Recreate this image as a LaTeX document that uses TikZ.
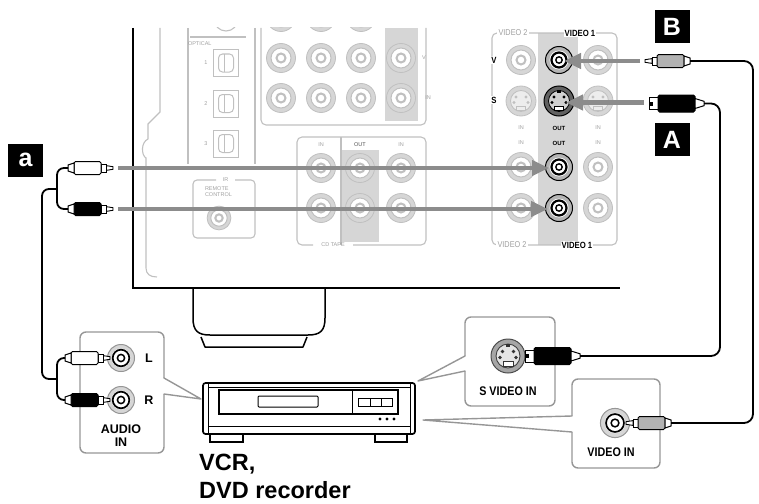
\documentclass[tikz,border=0pt]{standalone}
\usepackage{fontspec}
\setmainfont{Liberation Sans}
\newfontfamily\condfont[FakeStretch=0.86]{Liberation Sans}
\usetikzlibrary{arrows.meta}
\definecolor{pline}{RGB}{192,192,192}
\definecolor{ptext}{RGB}{160,160,160}
\definecolor{pfill}{RGB}{214,214,214}
\definecolor{arrowgray}{RGB}{140,140,140}
\definecolor{callgray}{RGB}{150,150,150}
\definecolor{plugfill}{RGB}{178,178,178}
\definecolor{ringgray}{RGB}{180,180,180}
\newcommand\rcaplugdraw[1]{%
  \draw[black, line width=0.9pt, fill=white] (0,-1.3) -- (7,-2.4) -- (7,2.4) -- (0,1.3) -- cycle;
  \draw[black, line width=0.9pt, fill=white] (7,-4) rectangle (12,4);
  \draw[black, line width=1pt, fill=#1, rounded corners=1.5pt] (12,-6.5) rectangle (39,6.5);
  \draw[black, line width=1pt, fill=white] (39,-5) -- (45,-3) -- (45,3) -- (39,5) -- cycle;
}
\tikzset{
  panel/.style={draw=pline, line width=1.1pt},
  grayarrow/.style={draw=arrowgray, line width=4.5pt, -{Triangle[length=17pt,width=15pt]}},
  cable/.style={draw=black, line width=1.8pt, rounded corners=7pt},
  callout/.style={draw=callgray, line width=1.4pt, rounded corners=6pt},
  tail/.style={draw=callgray, line width=1.4pt, line join=round, line cap=round},
  tinylab/.style={text=ptext, font=\fontsize{5.5}{6}\selectfont, inner sep=0.8pt},
  tinyblack/.style={text=black, font=\bfseries\fontsize{6}{6}\selectfont, inner sep=0.8pt},
  panellab/.style={text=black, font=\condfont\bfseries\fontsize{9}{9}\selectfont, inner sep=1.2pt, fill=white},
  graylab/.style={text=ptext, font=\condfont\fontsize{8.5}{9}\selectfont, inner sep=1.2pt, fill=white},
  calloutlab/.style={text=black, font=\condfont\bfseries\fontsize{12.5}{14}\selectfont, inner sep=0pt},
  audiolab/.style={text=black, font=\bfseries\fontsize{12.5}{15}\selectfont, inner sep=0pt, align=center},
  biglab/.style={font=\bfseries\fontsize{23.5}{28}\selectfont, inner sep=0pt},
  keybox/.style={fill=black, text=white, font=\bfseries\fontsize{25}{25}\selectfont, minimum width=35pt, minimum height=33pt, inner sep=0pt},
  gjack/.pic={
    \fill[pfill] (0,0) circle (14.5);
    \draw[pline, line width=0.8pt] (0,0) circle (14.5);
    \fill[white] (0,0) circle (10);
    \draw[pline, line width=1pt] (0,0) circle (10);
    \draw[pline, line width=2pt] (0,0) circle (4.5);
  },
  bjack/.pic={
    \fill[ringgray] (0,0) circle (13.5);
    \draw[black, line width=1pt] (0,0) circle (13.5);
    \fill[white] (0,0) circle (9.5);
    \draw[black, line width=2.2pt] (0,0) circle (7.5);
    \draw[black, line width=1.4pt] (0,0) circle (3.2);
  },
  ajack/.pic={
    \fill[pfill] (0,0) circle (13.5);
    \draw[callgray, line width=1pt] (0,0) circle (13.5);
    \fill[white] (0,0) circle (9.5);
    \draw[black, line width=1.7pt] (0,0) circle (8.3);
    \draw[black, line width=1.5pt] (0,0) circle (3.6);
  },
  gsjack/.pic={
    \fill[pfill] (0,0) circle (15);
    \draw[pline, line width=0.8pt] (0,0) circle (15);
    \fill[white!93!black] (0,0) circle (10.5);
    \draw[pline, line width=0.8pt] (0,0) circle (10.5);
    \fill[pline] (-5,-4) circle (1.6) (5,-4) circle (1.6) (-7,1.5) circle (1.6) (7,1.5) circle (1.6);
    \draw[pline, line width=0.8pt] (-4.5,5) rectangle (4.5,9);
  },
  bsjack/.pic={
    \fill[black!62] (0,0) circle (15);
    \draw[black, line width=1pt] (0,0) circle (15);
    \fill[black!18] (0,0) circle (10.5);
    \draw[black, line width=0.8pt] (0,0) circle (10.5);
    \fill[black] (-5,-4) circle (1.6) (5,-4) circle (1.6) (-7,1.5) circle (1.6) (7,1.5) circle (1.6);
    \fill[black] (-2,-11) rectangle (2,-8);
    \draw[black, line width=0.8pt, fill=white] (-4.5,5) rectangle (4.5,9);
  },
  csjack/.pic={
    \fill[black!35] (0,0) circle (17);
    \draw[black!70, line width=1pt] (0,0) circle (17);
    \fill[black!10] (0,0) circle (12);
    \draw[black!75, line width=0.9pt] (0,0) circle (12);
    \fill[black!80] (-5.5,-4.5) circle (1.8) (5.5,-4.5) circle (1.8) (-8,1.5) circle (1.8) (8,1.5) circle (1.8);
    \fill[black!80] (-2.2,-12.5) rectangle (2.2,-9);
    \draw[black!80, line width=0.8pt, fill=white] (-5,5.5) rectangle (5,10);
  },
  optbox/.pic={
    \draw[pline, line width=1pt] (-12.5,-13.5) rectangle (12.5,13.5);
    \draw[pline, line width=1pt, rounded corners=4pt] (-7,-9) rectangle (8,9);
    \draw[pline, line width=0.8pt] (-1,-9) -- (-1,9);
  },
  plugw/.pic={\rcaplugdraw{white}},
  plugk/.pic={\rcaplugdraw{black}},
  plugg/.pic={\rcaplugdraw{plugfill}},
  svplug/.pic={
    \draw[black, line width=1pt, fill=white] (0,-6) rectangle (9,6);
    \fill[black] (0,-2) rectangle (3.5,2);
    \draw[black, line width=1pt, fill=black, rounded corners=1.5pt] (9,-8.5) rectangle (46,8.5);
    \draw[black, line width=1pt, fill=white] (46,-5) -- (55,-2.2) -- (55,2.2) -- (46,5) -- cycle;
  },
}
\begin{document}
\begin{tikzpicture}[x=1pt,y=-1pt]
\useasboundingbox (0,0) rectangle (759,503);

% ===== receiver rear panel: light gray details =====
\fill[pfill] (385,28) rectangle (418,121);
\fill[pfill] (341,150) rectangle (379,242);
\fill[pfill] (538,33) rectangle (578,245);

\draw[panel] (160,28) -- (160,112) -- (148,124) -- (148,139) .. controls (141,142) and (141,155) .. (146,158) -- (146,268) .. controls (146,274) and (150,277) .. (157,277);
\draw[panel] (188,28) -- (188,164);
\draw[panel] (255,28) -- (255,164);
\draw[panel] (190,37) -- (246,37);
\begin{scope}
  \clip (150,28) rectangle (430,45);
  \draw[panel] (226,19) circle (12);
  \foreach \xx in {281,321,361} \pic at (\xx,17) {gjack};
\end{scope}
\node[tinylab, anchor=west] (optlab) at (187,44) {OPTICAL};
\foreach \yy/\nn in {63/1,103.5/2,143.5/3}{
  \pic at (225.5,\yy) {optbox};
  \node[tinylab] (optnum\nn) at (206,\yy) {\nn};
}
% remote box
\draw[panel, rounded corners=4pt] (216,180) -- (193,180) -- (193,238) -- (255,238) -- (255,180) -- (235,180);
\node[tinylab] (irlab) at (225.5,180) {IR};
\node[tinylab, align=left, anchor=north west] (remlab) at (204,186) {REMOTE\\CONTROL};
\pic[scale=0.82] at (219,218) {gjack};

% top jack panel
\draw[panel, rounded corners=5pt] (261,28) -- (261,125) -- (426,125) -- (426,28);
\foreach \xx in {281,321,361,401}{
  \pic at (\xx,58) {gjack};
  \pic at (\xx,98) {gjack};
}
\node[tinylab] (toplabV) at (424,58) {V};
\node[tinylab] (toplabIN) at (428,98) {IN};

% CD / TAPE box
\draw[panel, rounded corners=5pt] (313,245) -- (297,245) -- (297,137) -- (426,137) -- (426,245) -- (353,245);
\draw[panel] (341,137) -- (341,245);
\node[tinylab] (cdtape) at (333,245) {CD TAPE};
\node[tinylab] (cdin1) at (321,145) {IN};
\node[tinylab, text=black!70] (cdout) at (360,145) {OUT};
\node[tinylab] (cdin2) at (401,145) {IN};
\foreach \xx in {321,360,401}{
  \pic at (\xx,168) {gjack};
  \pic at (\xx,208) {gjack};
}

% video panel
\draw[panel, rounded corners=5pt] (492,33) rectangle (617,245);
\node[graylab] (v2top) at (513,33) {VIDEO 2};
\node[panellab] (v1top) at (580,33) {VIDEO 1};
\node[graylab] (v2bot) at (512,245) {VIDEO 2};
\node[panellab] (v1bot) at (577,245) {VIDEO 1};
\node[panellab] (labV) at (494,60) {V};
\node[panellab] (labS) at (494,100) {S};
\pic at (521,60) {gjack};
\pic at (559,60) {bjack};
\pic at (598,60) {gjack};
\pic at (521,101) {gsjack};
\pic at (559,101) {bsjack};
\pic at (598,101) {gsjack};
\node[tinylab] (vin1) at (521,128) {IN};
\node[tinyblack] (vout1) at (559,128) {OUT};
\node[tinylab] (vin2) at (598,128) {IN};
\node[tinylab] (vin3) at (521,143) {IN};
\node[tinyblack] (vout2) at (559,143) {OUT};
\node[tinylab] (vin4) at (598,143) {IN};
\foreach \yy in {167,208}{
  \pic at (521,\yy) {gjack};
  \pic at (559,\yy) {bjack};
  \pic at (598,\yy) {gjack};
}

% ===== receiver outline and stand =====
\draw[line width=1.6pt] (133,28) -- (133,288) -- (620,288);
\draw[line width=1.5pt] (193,288) -- (193,318) .. controls (193,331) and (198,335) .. (210,335) -- (308,335) .. controls (320,335) and (325,331) .. (325,318) -- (325,288);
\draw[line width=1.5pt, line join=round] (201,337) -- (205,347) -- (303,347) -- (307,337);

% ===== gray insertion arrows =====
\coordinate (aLfrom) at (118,168);
\coordinate (aLto) at (549,168);
\coordinate (aRfrom) at (118,209);
\coordinate (aRto) at (548,209);
\coordinate (Vfrom) at (640,61);
\coordinate (Vto) at (564,61);
\coordinate (Sfrom) at (644,102.5);
\coordinate (Sto) at (566,102.5);
\draw[grayarrow] (aLfrom) -- (aLto);
\draw[grayarrow] (aRfrom) -- (aRto);
\draw[grayarrow] (Vfrom) -- (Vto);
\draw[grayarrow] (Sfrom) -- (Sto);

% ===== key labels =====
\node[keybox] (keya) at (25.5,160) {a};
\node[keybox] (keyB) at (672,26.5) {B};
\node[keybox] (keyA) at (672,139.5) {A};

% ===== callouts =====
% AUDIO IN
\draw[callout] (164,394) -- (164,453) -- (80,453) -- (80,332) -- (164,332) -- (164,378);
\draw[tail] (164,378) -- (201,399) -- (164,394);
\pic at (121,358) {ajack};
\pic at (121,400) {ajack};
\node[audiolab] (labL) at (149,358) {L};
\node[audiolab] (labR) at (149,400) {R};
\node[audiolab] (audioin) at (121,436) {AUDIO\\[-2pt]IN};
% S VIDEO IN
\draw[callout] (465,371) -- (465,406) -- (555,406) -- (555,317) -- (465,317) -- (465,356);
\draw[tail] (465,356) -- (418,381) -- (465,371);
\pic at (508,356) {csjack};
\node[calloutlab] (svin) at (508,391) {S VIDEO IN};
% VIDEO IN
\draw[callout] (572,432) -- (572,468) -- (660,468) -- (660,379) -- (572,379) -- (572,416);
\draw[tail] (572,416) -- (423,420) -- (572,432);
\pic[scale=1.08] at (615,423) {ajack};
\node[calloutlab] (vidin) at (611,452) {VIDEO IN};

% ===== VCR / DVD recorder =====
\draw[line width=1.7pt, rounded corners=2.5pt] (203,383) rectangle (415,434);
\draw[line width=1pt] (208,384) -- (208,433);
\draw[line width=1pt] (410,384) -- (410,433);
\draw[line width=1pt] (208,387) -- (410,387);
\draw[line width=1.1pt] (219,390) rectangle (398,414);
\draw[line width=1pt] (352,390) -- (352,414);
\draw[line width=1pt, rounded corners=1pt] (258,396) rectangle (318,407);
\draw[line width=1pt] (358,398) rectangle (392,406);
\draw[line width=0.8pt] (370,398) -- (370,406);
\draw[line width=0.8pt] (381,398) -- (381,406);
\fill (380,419) circle (1.7) (387,419) circle (1.7) (394,419) circle (1.7);
\draw[line width=1pt] (208,426) -- (410,426);
\draw[line width=1.3pt] (210,434) rectangle (243,442);
\draw[line width=1.3pt] (375,434) rectangle (407,442);
\node[biglab, anchor=base west] (vcr) at (199,470) {VCR,};
\node[biglab, anchor=base west] (dvd) at (199,498) {DVD recorder};

% ===== plugs =====
\pic[xscale=-1] at (113,168) {plugw};
\pic[xscale=-1] at (113,209) {plugk};
\pic[xscale=-1] at (110,358) {plugw};
\pic[xscale=-1] at (110,400) {plugk};
\pic at (645,61) {plugg};
\pic at (626,423) {plugg};
\pic at (649,103.5) {svplug};
\pic at (525,356) {svplug};

% ===== cables =====
\coordinate (aTopL) at (68,168);
\coordinate (aTopR) at (68,209);
\coordinate (aBotL) at (65,358);
\coordinate (aBotR) at (65,400);
\coordinate (Btop) at (690,61);
\coordinate (Bbot) at (671,423);
\coordinate (Atop) at (704,103.5);
\coordinate (Abot) at (580,356);
\draw[cable] (aTopL) -- (57,168) -- (57,209) -- (aTopR);
\draw[cable] (57,189) -- (42,189) -- (42,379) -- (57,379);
\draw[cable] (aBotL) -- (57,358) -- (57,400) -- (aBotR);
\draw[cable, rounded corners=9pt] (Btop) -- (753,61) -- (753,423) -- (Bbot);
\draw[cable, rounded corners=9pt] (Atop) -- (720,103.5) -- (720,356) -- (Abot);
\end{tikzpicture}
\end{document}
